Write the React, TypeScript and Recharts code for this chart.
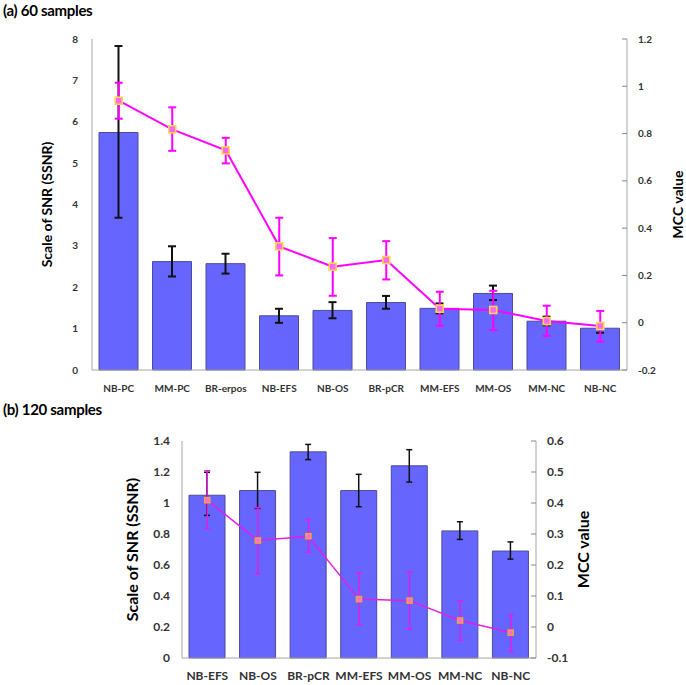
import { ComposedChart, Bar, Line, XAxis, YAxis, ErrorBar } from 'recharts';

// (a) 60 samples
const categoriesA = ['NB-PC', 'MM-PC', 'BR-erpos', 'NB-EFS', 'NB-OS', 'BR-pCR', 'MM-EFS', 'MM-OS', 'MM-NC', 'NB-NC'];
const ssnrA = [5.74, 2.62, 2.57, 1.31, 1.44, 1.63, 1.49, 1.85, 1.18, 1.01];
const ssnrLowA = [3.68, 2.26, 2.33, 1.14, 1.25, 1.48, 1.37, 1.69, 1.08, 0.9];
const ssnrHighA = [7.83, 2.99, 2.81, 1.48, 1.64, 1.79, 1.61, 2.04, 1.29, 1.13];
const mccA = [0.939, 0.818, 0.729, 0.323, 0.237, 0.265, 0.059, 0.054, 0.007, -0.014];
const mccLowA = [0.863, 0.727, 0.674, 0.2, 0.114, 0.183, -0.013, -0.031, -0.056, -0.08];
const mccHighA = [1.015, 0.911, 0.782, 0.444, 0.358, 0.345, 0.131, 0.135, 0.072, 0.05];
const leftTicksA = [0, 1, 2, 3, 4, 5, 6, 7, 8];
const rightTicksA = [-0.2, 0, 0.2, 0.4, 0.6, 0.8, 1, 1.2];

// (b) 120 samples
const categoriesB = ['NB-EFS', 'NB-OS', 'BR-pCR', 'MM-EFS', 'MM-OS', 'MM-NC', 'NB-NC'];
const ssnrB = [1.05, 1.08, 1.33, 1.08, 1.24, 0.82, 0.69];
const ssnrLowB = [0.92, 0.965, 1.28, 0.976, 1.135, 0.765, 0.638];
const ssnrHighB = [1.198, 1.198, 1.378, 1.185, 1.344, 0.879, 0.749];
const mccB = [0.409, 0.279, 0.293, 0.09, 0.085, 0.021, -0.018];
const mccLowB = [0.318, 0.172, 0.241, 0.008, -0.007, -0.043, -0.079];
const mccHighB = [0.504, 0.385, 0.347, 0.175, 0.178, 0.084, 0.04];
const leftTicksB = [0, 0.2, 0.4, 0.6, 0.8, 1, 1.2, 1.4];
const rightTicksB = [-0.1, 0, 0.1, 0.2, 0.3, 0.4, 0.5, 0.6];

const FONT = 'Lato, "Open Sans", sans-serif';
const AXIS = '#a6a6a6';
const BAR_FILL = '#6666ff';
const BAR_STROKE = '#4b4b9e';
const MAGENTA = '#ff00ff';

function buildRows(cats: string[], v: number[], lo: number[], hi: number[], m: number[], mlo: number[], mhi: number[]) {
  return cats.map((name, i) => ({
    name,
    ssnr: v[i],
    ssnrErr: [v[i] - lo[i], hi[i] - v[i]],
    mcc: m[i],
    mccErr: [m[i] - mlo[i], mhi[i] - m[i]],
  }));
}

const squareDot = (size: number, stroke: string, fill: string) => (props: any) => {
  const { cx, cy, index } = props;
  if (cx == null || cy == null) return <g key={index} />;
  return (
    <rect key={index} x={cx - size / 2} y={cy - size / 2} width={size} height={size}
      fill={fill} stroke={stroke} strokeWidth={1.6} />
  );
};

interface PanelProps {
  top: number;
  height: number;
  marginTop: number;
  xHeight: number;
  leftWidth: number;
  rightWidth: number;
  rows: any[];
  leftDomain: [number, number];
  leftTicks: number[];
  rightDomain: [number, number];
  rightTicks: number[];
  barSize: number;
  tickFont: number;
  catMargin: number;
  leftTickMargin: number;
  rightTickMargin: number;
  labelFont: number;
  leftLabelX: number;
  rightLabelX: number;
  lineWidth: number;
  lineColor: string;
  dotSize: number;
  dotStroke: string;
  dotFill: string;
  capA: number;
  capB: number;
}

function Panel(p: PanelProps) {
  const tickStyle = { fill: '#333', fontSize: p.tickFont, fontWeight: 700, fontFamily: FONT };
  const labelStyle = { textAnchor: 'middle' as const, fontSize: p.labelFont, fontWeight: 700, fill: '#000', fontFamily: FONT };
  return (
    <div style={{ position: 'absolute', left: 0, top: p.top }}>
      <ComposedChart width={686} height={p.height} data={p.rows}
        margin={{ top: p.marginTop, right: 0, bottom: 0, left: 0 }}>
        <XAxis xAxisId="bottom" dataKey="name" height={p.xHeight} interval={0}
          axisLine={{ stroke: AXIS }} tickLine={false} tickSize={0} tickMargin={p.catMargin} tick={tickStyle} />
        <XAxis xAxisId="top" dataKey="name" orientation="top" height={0} interval={0}
          axisLine={{ stroke: AXIS }} tickLine={{ stroke: '#888' }} tickSize={-5} tick={false} />
        <YAxis yAxisId="left" width={p.leftWidth} domain={p.leftDomain} ticks={p.leftTicks} interval={0}
          axisLine={{ stroke: AXIS }} tickLine={false} tickSize={0} tickMargin={p.leftTickMargin} tick={tickStyle}
          label={{ value: 'Scale of SNR (SSNR)', angle: -90, position: 'insideLeft', offset: p.leftLabelX, style: labelStyle }} />
        <YAxis yAxisId="right" orientation="right" width={p.rightWidth} domain={p.rightDomain} ticks={p.rightTicks} interval={0}
          axisLine={{ stroke: AXIS }} tickLine={{ stroke: '#888' }} tickSize={-5} tickMargin={p.rightTickMargin} tick={tickStyle}
          label={{ value: 'MCC value', angle: -90, position: 'insideLeft', offset: p.rightLabelX, style: labelStyle }} />
        <Bar xAxisId="bottom" yAxisId="left" dataKey="ssnr" fill={BAR_FILL} stroke={BAR_STROKE} strokeWidth={1}
          barSize={p.barSize} isAnimationActive={false}>
          <ErrorBar dataKey="ssnrErr" direction="y" width={p.capA} stroke="#111" strokeWidth={p.lineWidth} />
        </Bar>
        <Line xAxisId="top" yAxisId="right" dataKey="mcc" stroke={p.lineColor} strokeWidth={p.lineWidth}
          dot={squareDot(p.dotSize, p.dotStroke, p.dotFill)} activeDot={false} isAnimationActive={false}>
          <ErrorBar dataKey="mccErr" direction="y" width={p.capB} stroke={p.lineColor} strokeWidth={p.lineWidth} />
        </Line>
      </ComposedChart>
    </div>
  );
}

export default function App() {
  const rowsA = buildRows(categoriesA, ssnrA, ssnrLowA, ssnrHighA, mccA, mccLowA, mccHighA);
  const rowsB = buildRows(categoriesB, ssnrB, ssnrLowB, ssnrHighB, mccB, mccLowB, mccHighB);
  const titleStyle = { position: 'absolute' as const, left: 3, fontFamily: FONT, fontWeight: 700, fontSize: 15, color: '#000', lineHeight: '16px', letterSpacing: '-0.3px' };
  return (
    <div style={{ position: 'absolute', left: 0, top: 0, width: 686, height: 685, background: '#fff', overflow: 'hidden' }}>
      <div style={{ ...titleStyle, top: 2 }}>(a) 60 samples</div>
      <div style={{ ...titleStyle, top: 401 }}>(b) 120 samples</div>
      <Panel top={0} height={400} marginTop={39} xHeight={30} leftWidth={92} rightWidth={59}
        rows={rowsA} leftDomain={[0, 8]} leftTicks={leftTicksA} rightDomain={[-0.2, 1.2]} rightTicks={rightTicksA}
        barSize={39} tickFont={10} catMargin={15} leftTickMargin={14} rightTickMargin={16}
        labelFont={14} leftLabelX={47} rightLabelX={51} lineWidth={2} lineColor={MAGENTA} dotSize={7}
        dotStroke="#ffd54a" dotFill="#ff66ff" capA={4} capB={4} />
      <Panel top={420} height={265} marginTop={21} xHeight={27} leftWidth={182} rightWidth={150}
        rows={rowsB} leftDomain={[0, 1.4]} leftTicks={leftTicksB} rightDomain={[-0.1, 0.6]} rightTicks={rightTicksB}
        barSize={36} tickFont={12} catMargin={13} leftTickMargin={12} rightTickMargin={16}
        labelFont={16} leftLabelX={132} rightLabelX={47} lineWidth={1.5} lineColor="#e020e0" dotSize={5}
        dotStroke="#f0a040" dotFill="#ff66ff" capA={3} capB={3} />
    </div>
  );
}
